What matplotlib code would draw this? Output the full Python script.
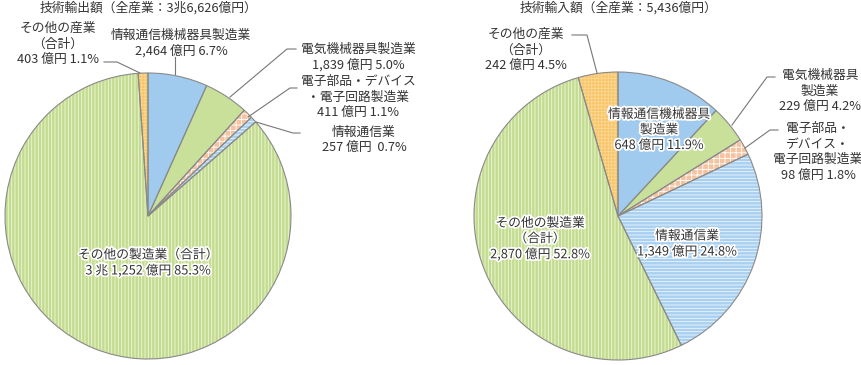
import matplotlib
matplotlib.use("Agg")
import matplotlib.pyplot as plt
import matplotlib.patheffects as pe

plt.rcParams['font.family'] = ['Noto Sans CJK JP', 'DejaVu Sans']
plt.rcParams['hatch.linewidth'] = 0.6

# ---- data ----
sectors = ['情報通信機械器具製造業', '電気機械器具製造業', '電子部品・デバイス・電子回路製造業',
           '情報通信業', 'その他の製造業（合計）', 'その他の産業（合計）']
export_vals = [2464, 1839, 411, 257, 31252, 403]      # 億円
export_pct = [6.7, 5.0, 1.1, 0.7, 85.3, 1.1]
import_vals = [648, 229, 98, 1349, 2870, 242]         # 億円
import_pct = [11.9, 4.2, 1.8, 24.8, 52.8, 4.5]

face = ['#a0cbee', '#c9e09b', '#f5c3a0', '#a9d0f0', '#c3dc90', '#f8c468']
hatch_col = ['#a0cbee', '#c9e09b', '#ffffff', '#eef6fd', '#eef6dc', '#fbd894']
hatches = [None, None, '+++', '-----', '|||||', '+++++']

H = 365
def Y(y):
    return H - y

fig = plt.figure(figsize=(8.61, 3.65), dpi=100)
ax = fig.add_axes([0, 0, 1, 1])
ax.set_xlim(0, 861)
ax.set_ylim(0, H)
ax.axis('off')

txt = '#333333'
lc = '#777777'

def draw_pie(vals, cx, cy, r):
    w, _ = ax.pie(vals, startangle=90, counterclock=False, center=(cx, Y(cy)), radius=r,
                  colors=face, wedgeprops=dict(linewidth=0))
    for i, p in enumerate(w):
        if hatches[i]:
            p.set_hatch(hatches[i])
            p.set_edgecolor(hatch_col[i])
    ax.pie(vals, startangle=90, counterclock=False, center=(cx, Y(cy)), radius=r,
           colors=['none'] * len(vals), wedgeprops=dict(linewidth=0.8, edgecolor='#8a8a8a'))

draw_pie(export_vals, 148, 216, 143)
draw_pie(import_vals, 618, 216, 144)
ax.set_xlim(0, 861)
ax.set_ylim(0, H)
ax.set_aspect('auto')

fs = 9.2
def label(x, y, s, halo=False, ls=1.25):
    t = ax.text(x, Y(y), s, ha='center', va='center', fontsize=fs, color=txt, linespacing=ls)
    if halo:
        t.set_path_effects([pe.withStroke(linewidth=2.5, foreground='white')])

def leader(pts):
    ax.plot([p[0] for p in pts], [Y(p[1]) for p in pts], color=lc, lw=0.8)

# titles
ax.text(148, Y(8), '技術輸出額（全産業：3兆6,626億円）', ha='center', va='center', fontsize=fs, color=txt)
ax.text(618, Y(8), '技術輸入額（全産業：5,436億円）', ha='center', va='center', fontsize=fs, color=txt)

# export labels
label(58, 44, 'その他の産業\n（合計）\n%d 億円 %.1f%%' % (export_vals[5], export_pct[5]))
leader([(104, 62), (117, 62), (140, 73)])
label(181, 43, '情報通信機械器具製造業\n{:,} 億円 {:.1f}%'.format(export_vals[0], export_pct[0]))
leader([(175, 57), (175, 74)])
label(358, 57, '電気機械器具製造業\n{:,} 億円 {:.1f}%'.format(export_vals[1], export_pct[1]))
leader([(230, 97), (287, 49), (296, 49)])
label(358, 97, '電子部品・デバイス\n・電子回路製造業\n{:,} 億円 {:.1f}%'.format(export_vals[2], export_pct[2]))
leader([(248, 117), (290, 88), (297, 88)])
label(364, 140, '情報通信業\n{:,} 億円  {:.1f}%'.format(export_vals[3], export_pct[3]))
leader([(256, 122), (293, 133), (300, 133)])
label(148, 263, 'その他の製造業（合計）\n3 兆 1,252 億円 {:.1f}%'.format(export_pct[4]), halo=True)

# import labels
label(526, 50, 'その他の産業\n（合計）\n%d 億円 %.1f%%' % (import_vals[5], import_pct[5]))
leader([(572, 35), (587, 35), (597, 73)])
label(659, 130, '情報通信機械器具\n製造業\n{:,} 億円 {:.1f}%'.format(import_vals[0], import_pct[0]), halo=True)
label(820, 91, '電気機械器具\n製造業\n{:,} 億円 {:.1f}%'.format(import_vals[1], import_pct[1]))
leader([(732, 125), (767, 77), (775, 77)])
label(818, 152, '電子部品・\nデバイス・\n電子回路製造業\n{:,} 億円 {:.1f}%'.format(import_vals[2], import_pct[2]))
leader([(745, 148), (770, 130), (778, 130)])
label(687, 244, '情報通信業\n{:,} 億円 {:.1f}%'.format(import_vals[3], import_pct[3]), halo=True)
label(540, 239, 'その他の製造業\n（合計）\n{:,} 億円 {:.1f}%'.format(import_vals[4], import_pct[4]), halo=True)

fig.savefig('out.png', dpi=100)
